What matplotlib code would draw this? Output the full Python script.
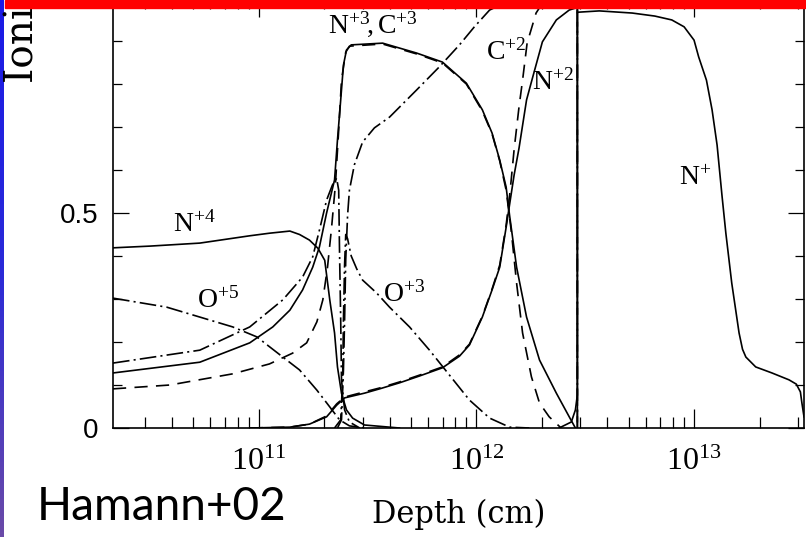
import numpy as np
import matplotlib
matplotlib.use('Agg')
import matplotlib.pyplot as plt
from matplotlib.ticker import LogLocator, FixedLocator, FixedFormatter, NullFormatter, MultipleLocator
from matplotlib.patches import Rectangle

plt.rcParams['mathtext.fontset'] = 'custom'
plt.rcParams['mathtext.rm'] = 'Liberation Serif'
plt.rcParams['mathtext.it'] = 'Liberation Serif:italic'
plt.rcParams['lines.scale_dashes'] = False

# ionisation fractions vs depth (cm)
d_n4 = [2.14e10, 3.16e10, 5.36e10, 9.09e10, 1.12e11, 1.39e11, 1.54e11, 1.71e11, 1.87e11,
        2.01e11, 2.12e11, 2.23e11, 2.30e11, 2.40e11, 2.53e11, 2.70e11, 3.06e11, 4.43e11]
f_n4 = [0.419, 0.423, 0.430, 0.447, 0.453, 0.458, 0.450, 0.437, 0.418,
        0.390, 0.298, 0.221, 0.142, 0.081, 0.042, 0.023, 0.007, 0.0]

d_n3 = [2.14e10, 5.36e10, 9.09e10, 1.16e11, 1.39e11, 1.59e11, 1.77e11, 1.90e11, 2.05e11,
        2.23e11, 2.30e11, 2.38e11, 2.45e11, 2.53e11, 2.66e11, 3.71e11, 5.31e11, 6.98e11,
        8.99e11, 1.065e12, 1.18e12, 1.28e12, 1.37e12, 1.42e12, 1.53e12, 1.70e12, 1.95e12,
        2.33e12, 2.67e12, 2.85e12]
f_n3 = [0.128, 0.153, 0.198, 0.235, 0.274, 0.321, 0.374, 0.421, 0.500,
        0.577, 0.670, 0.763, 0.844, 0.879, 0.891, 0.895, 0.872, 0.851,
        0.802, 0.740, 0.686, 0.623, 0.560, 0.495, 0.374, 0.258, 0.158,
        0.081, 0.026, 0.0]

d_c3 = [2.14e10, 3.91e10, 7.60e10, 1.12e11, 1.43e11, 1.66e11, 1.85e11, 1.97e11, 2.07e11,
        2.16e11, 2.25e11, 2.33e11, 2.40e11, 2.51e11, 2.61e11, 3.71e11, 5.31e11, 6.98e11,
        8.99e11, 1.065e12, 1.18e12, 1.28e12, 1.37e12, 1.45e12, 1.53e12, 1.63e12, 1.79e12,
        1.95e12, 2.16e12, 2.45e12]
f_c3 = [0.091, 0.100, 0.126, 0.149, 0.174, 0.198, 0.247, 0.298, 0.374,
        0.465, 0.565, 0.693, 0.809, 0.874, 0.888, 0.893, 0.870, 0.849,
        0.800, 0.737, 0.684, 0.621, 0.553, 0.453, 0.337, 0.221, 0.119,
        0.058, 0.026, 0.0]

d_n2 = [9.09e10, 1.39e11, 1.71e11, 2.05e11, 2.28e11, 2.48e11, 3.06e11, 3.59e11, 4.43e11,
        5.48e11, 6.98e11, 8.36e11, 9.29e11, 1.065e12, 1.18e12, 1.28e12, 1.37e12, 1.42e12,
        1.49e12, 1.57e12, 1.70e12, 1.81e12, 2.01e12, 2.33e12, 2.67e12, 2.87e12, 2.91e12,
        2.91e12]
f_n2 = [0.0, 0.002, 0.009, 0.026, 0.053, 0.070, 0.081, 0.091, 0.105,
        0.121, 0.140, 0.167, 0.193, 0.258, 0.321, 0.374, 0.467, 0.519,
        0.588, 0.651, 0.763, 0.814, 0.898, 0.949, 0.972, 0.977, 0.977,
        0.0]

d_c2 = [9.09e10, 1.39e11, 1.71e11, 2.05e11, 2.28e11, 2.48e11, 3.06e11, 3.59e11, 4.43e11,
        5.48e11, 6.98e11, 8.36e11, 9.29e11, 1.065e12, 1.18e12, 1.28e12, 1.37e12, 1.43e12,
        1.49e12, 1.57e12, 1.63e12, 1.71e12, 1.81e12, 1.88e12, 1.97e12, 2.87e12, 2.91e12,
        2.91e12]
f_c2 = [0.0, 0.002, 0.009, 0.028, 0.056, 0.072, 0.084, 0.093, 0.107,
        0.123, 0.142, 0.170, 0.195, 0.260, 0.323, 0.379, 0.472, 0.553,
        0.647, 0.747, 0.809, 0.895, 0.937, 0.965, 0.981, 0.986, 0.986,
        0.0]

d_n1 = [2.40e12, 2.73e12, 2.85e12, 2.91e12, 2.91e12, 2.94e12, 3.67e12, 5.20e12, 6.60e12,
        7.90e12, 9.00e12, 1.00e13, 1.05e13, 1.14e13, 1.21e13, 1.276e13, 1.343e13, 1.40e13,
        1.49e13, 1.61e13, 1.67e13, 1.73e13, 1.92e13, 2.28e13, 2.73e13, 2.95e13, 3.08e13,
        3.13e13, 3.20e13]
f_n1 = [0.0, 0.014, 0.042, 0.077, 0.967, 0.967, 0.970, 0.965, 0.958,
        0.949, 0.933, 0.902, 0.863, 0.809, 0.740, 0.658, 0.542, 0.453,
        0.337, 0.221, 0.183, 0.165, 0.142, 0.128, 0.112, 0.102, 0.084,
        0.058, 0.026]

d_o5 = [2.14e10, 3.78e10, 5.36e10, 7.60e10, 9.79e10, 1.29e11, 1.54e11, 1.85e11, 2.12e11,
        2.35e11, 2.61e11, 3.06e11]
f_o5 = [0.302, 0.281, 0.258, 0.235, 0.212, 0.165, 0.135, 0.088, 0.049,
        0.019, 0.005, 0.0]

d_o4 = [2.14e10, 5.36e10, 9.09e10, 1.29e11, 1.59e11, 1.77e11, 1.90e11, 2.05e11, 2.18e11,
        2.28e11, 2.33e11, 2.35e11, 2.38e11, 2.40e11, 2.48e11, 2.61e11, 2.91e11]
f_o4 = [0.151, 0.181, 0.235, 0.298, 0.351, 0.398, 0.460, 0.530, 0.565,
        0.581, 0.553, 0.414, 0.251, 0.112, 0.042, 0.014, 0.0]

d_o3 = [2.23e11, 2.38e11, 2.43e11, 2.45e11, 2.48e11, 2.51e11, 2.56e11, 2.66e11, 2.82e11,
        3.00e11, 3.48e11, 3.99e11, 4.93e11, 6.09e11, 7.52e11, 9.29e11, 1.15e12, 1.42e12,
        1.75e12]
f_o3 = [0.0, 0.019, 0.112, 0.251, 0.380, 0.450, 0.440, 0.400, 0.370,
        0.344, 0.314, 0.281, 0.235, 0.181, 0.123, 0.065, 0.023, 0.002,
        0.0]

d_o2 = [2.30e11, 2.40e11, 2.45e11, 2.48e11, 2.51e11, 2.56e11, 2.61e11, 2.75e11, 3.00e11,
        3.40e11, 3.99e11, 5.31e11, 6.76e11, 8.36e11, 9.79e11, 1.15e12, 1.34e12, 2.87e12,
        2.91e12, 2.91e12]
f_o2 = [0.0, 0.019, 0.135, 0.251, 0.391, 0.495, 0.553, 0.612, 0.665,
        0.698, 0.723, 0.786, 0.840, 0.891, 0.933, 0.972, 0.988, 0.988,
        0.988, 0.0]

# ion labels: text, depth, fraction
ion_text = [r'$\mathrm{N^{+4}}$', r'$\mathrm{O^{+5}}$', r'$\mathrm{N^{+3}\!,C^{+3}}$',
            r'$\mathrm{C^{+2}}$', r'$\mathrm{N^{+2}}$', r'$\mathrm{O^{+3}}$', r'$\mathrm{N^{+}}$']
ion_x = [4.03e10, 5.20e10, 2.07e11, 1.11e12, 1.81e12, 3.71e11, 8.53e12]
ion_y = [0.456, 0.279, 0.919, 0.856, 0.786, 0.293, 0.565]

dashed = (0, (9.5, 6))
dashdot = (0, (12, 3, 1.5, 3))

fig = plt.figure(figsize=(8.06, 5.37), dpi=100)
ax = fig.add_axes([113 / 806, 109 / 537, 691 / 806, 430 / 537])

lw = 1.2
ax.plot(d_n4, f_n4, color='black', lw=lw)
ax.plot(d_n3, f_n3, color='black', lw=lw)
ax.plot(d_n2, f_n2, color='black', lw=lw)
ax.plot(d_n1, f_n1, color='black', lw=lw)
ax.plot(d_c3, f_c3, color='black', lw=lw, ls=dashed)
ax.plot(d_c2, f_c2, color='black', lw=lw, ls=dashed)
ax.plot(d_o5, f_o5, color='black', lw=lw, ls=dashdot)
ax.plot(d_o4, f_o4, color='black', lw=lw, ls=dashdot)
ax.plot(d_o3, f_o3, color='black', lw=lw, ls=dashdot)
ax.plot(d_o2, f_o2, color='black', lw=lw, ls=dashdot)

for t, x, y in zip(ion_text, ion_x, ion_y):
    ax.text(x, y, t, fontsize=20, ha='left', va='baseline')

ax.set_xscale('log')
ax.set_xlim(2.14e10, 3.2e13)
ax.set_ylim(0, 1)

ax.xaxis.set_major_locator(FixedLocator([1e11, 1e12, 1e13]))
ax.xaxis.set_major_formatter(FixedFormatter([r'$\mathrm{10^{11}}$', r'$\mathrm{10^{12}}$',
                                             r'$\mathrm{10^{13}}$']))
ax.xaxis.set_minor_locator(LogLocator(base=10, subs=np.arange(2, 10)))
ax.xaxis.set_minor_formatter(NullFormatter())
ax.yaxis.set_major_locator(FixedLocator([0, 0.5, 1.0]))
ax.yaxis.set_major_formatter(FixedFormatter(['0', '0.5', '']))
ax.yaxis.set_minor_locator(MultipleLocator(0.1))

ax.tick_params(which='both', direction='in', top=True, right=True, width=0.9, color='black')
ax.tick_params(axis='x', which='major', length=14, pad=13, labelsize=23)
ax.tick_params(axis='x', which='minor', length=8)
ax.tick_params(axis='y', which='major', length=11.5, pad=10.5, labelsize=20)
ax.tick_params(axis='y', which='minor', length=6.5)
for lab in ax.get_yticklabels():
    lab.set_fontfamily('Liberation Sans')
for s in ax.spines.values():
    s.set_linewidth(1.2)

ax.set_xlabel('Depth (cm)', fontsize=22, family='DejaVu Serif')
ax.xaxis.set_label_coords(0.5, -(499 - 428) / 430)
ax.xaxis.label.set_va('top')

fig.text(23 / 806, (537 - 83) / 537, 'Ionization Fraction', rotation=90, ha='center',
         va='bottom', fontsize=28, family='DejaVu Serif')

fig.text(37 / 806, (537 - 520) / 537, 'Hamann+02', fontsize=33, family='Lato',
         ha='left', va='baseline')

# slide frame: red bar along the top and a blue strip down the left edge
fig.patches.append(Rectangle((5 / 806, 1 - 8 / 537), 1, 8 / 537, transform=fig.transFigure,
                             color='#ff0000', zorder=10))
strip = fig.add_axes([0, 0, 4 / 806, 1])
strip.imshow(np.linspace(0, 1, 100).reshape(-1, 1), aspect='auto',
             cmap=matplotlib.colors.LinearSegmentedColormap.from_list('edge', ['#1a1ae6', '#2a2ad8', '#6a4aa8']))
strip.axis('off')

fig.savefig('out.png', dpi=100)
